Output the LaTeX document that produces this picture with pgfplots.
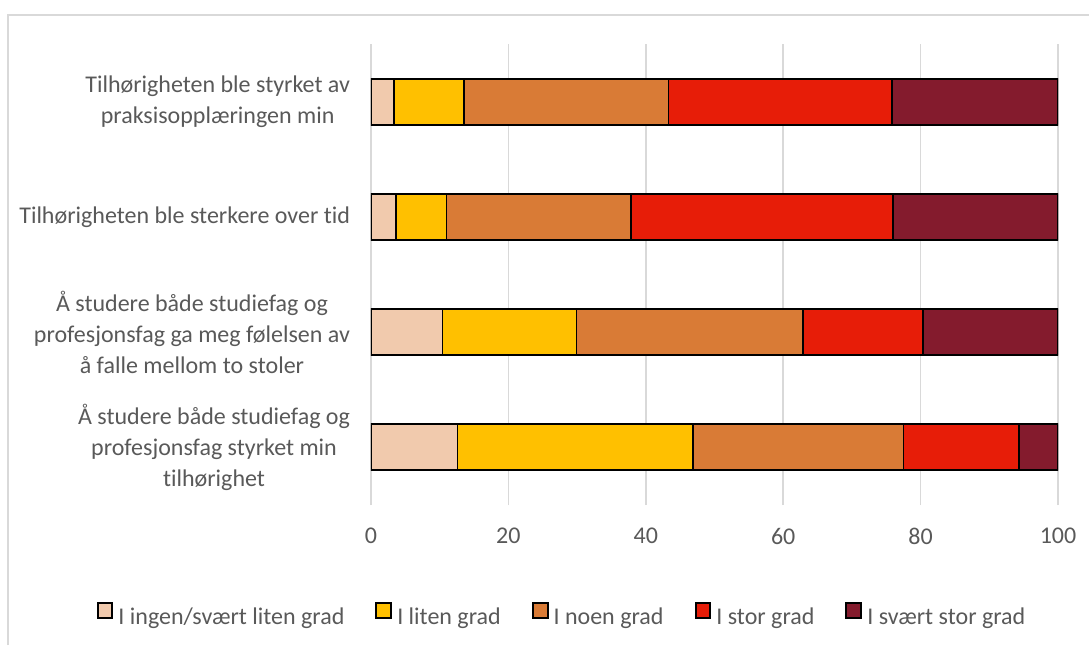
\documentclass[border=0pt]{standalone}
\usepackage{pgfplots}
\pgfplotsset{compat=1.18}
\usepackage{fontspec}
\setmainfont{Carlito}[Ligatures=NoCommon]

\definecolor{txt}{HTML}{595959}
\definecolor{gridc}{HTML}{D9D9D9}
\definecolor{frame}{HTML}{D9D9D9}
\definecolor{cA}{HTML}{F1CAAD}
\definecolor{cB}{HTML}{FFC000}
\definecolor{cC}{HTML}{D97B36}
\definecolor{cD}{HTML}{E71D08}
\definecolor{cE}{HTML}{841B2D}

% square legend key with a black outline
\pgfplotsset{
  sqkey/.style={legend image code/.code={%
    \draw[fill=#1, draw=black, line width=1pt] (0.5pt,-0.2pt) rectangle (7.9pt,7.2pt);}}
}

\begin{document}
\begin{tikzpicture}[x=1pt,y=1pt]
  \path[use as bounding box] (0,0) rectangle (544.5,322.5);
  % chart area frame
  \draw[frame, line width=0.8pt] (4,0) -- (4,315) -- (544.5,315);
  \begin{axis}[
    at={(185.5pt,70pt)}, anchor=south west,
    scale only axis,
    width=343.5pt, height=230.5pt,
    xbar stacked,
    bar width=23pt,
    xmin=0, xmax=100,
    ymin=-0.5, ymax=3.5,
    xtick={0,20,...,100},
    ytick={0,1,2,3},
    yticklabels={
      {Å studere både studiefag og\\profesjonsfag styrket min\\tilhørighet},
      {Å studere både studiefag og\\profesjonsfag ga meg følelsen av\\å falle mellom to stoler},
      {Tilhørigheten ble sterkere over tid},
      {Tilhørigheten ble styrket av\\praksisopplæringen min}},
    yticklabel style={align=center, font=\fontsize{12}{15.5}\selectfont, text=txt, xshift=-7pt},
    xticklabel style={font=\fontsize{12}{14}\selectfont, text=txt, yshift=-8pt},
    /pgf/number format/assume math mode=true,
    axis line style={draw=none},
    major tick length=0pt,
    xmajorgrids,
    grid style={gridc, line width=0.8pt},
    every axis plot/.append style={draw=black, line width=0.9pt},
    legend columns=5,
    legend cell align=left,
    legend style={at={(0.278,-0.2407)}, anchor=center, draw=none, fill=none,
      font=\fontsize{12}{14}\selectfont, text=txt,
      nodes={inner sep=1pt},
      /tikz/every odd column/.append style={column sep=1.5pt},
      /tikz/every even column/.append style={column sep=14.5pt}},
  ]
    \addplot[fill=cA, forget plot] coordinates {(12.6,0) (10.4,1) (3.6,2) (3.3,3)};
    \addplot[fill=cB, forget plot] coordinates {(34.3,0) (19.5,1) (7.4,2) (10.2,3)};
    \addplot[fill=cC, forget plot] coordinates {(30.6,0) (33.0,1) (26.9,2) (29.8,3)};
    \addplot[fill=cD, forget plot] coordinates {(16.8,0) (17.4,1) (38.1,2) (32.5,3)};
    \addplot[fill=cE, forget plot] coordinates {(5.7,0) (19.7,1) (24.0,2) (24.2,3)};
    \addlegendimage{sqkey=cA}
    \addlegendimage{sqkey=cB}
    \addlegendimage{sqkey=cC}
    \addlegendimage{sqkey=cD}
    \addlegendimage{sqkey=cE}
    \legend{I ingen/svært liten grad, I liten grad, I noen grad, I stor grad, I svært stor grad}
  \end{axis}
\end{tikzpicture}
\end{document}
